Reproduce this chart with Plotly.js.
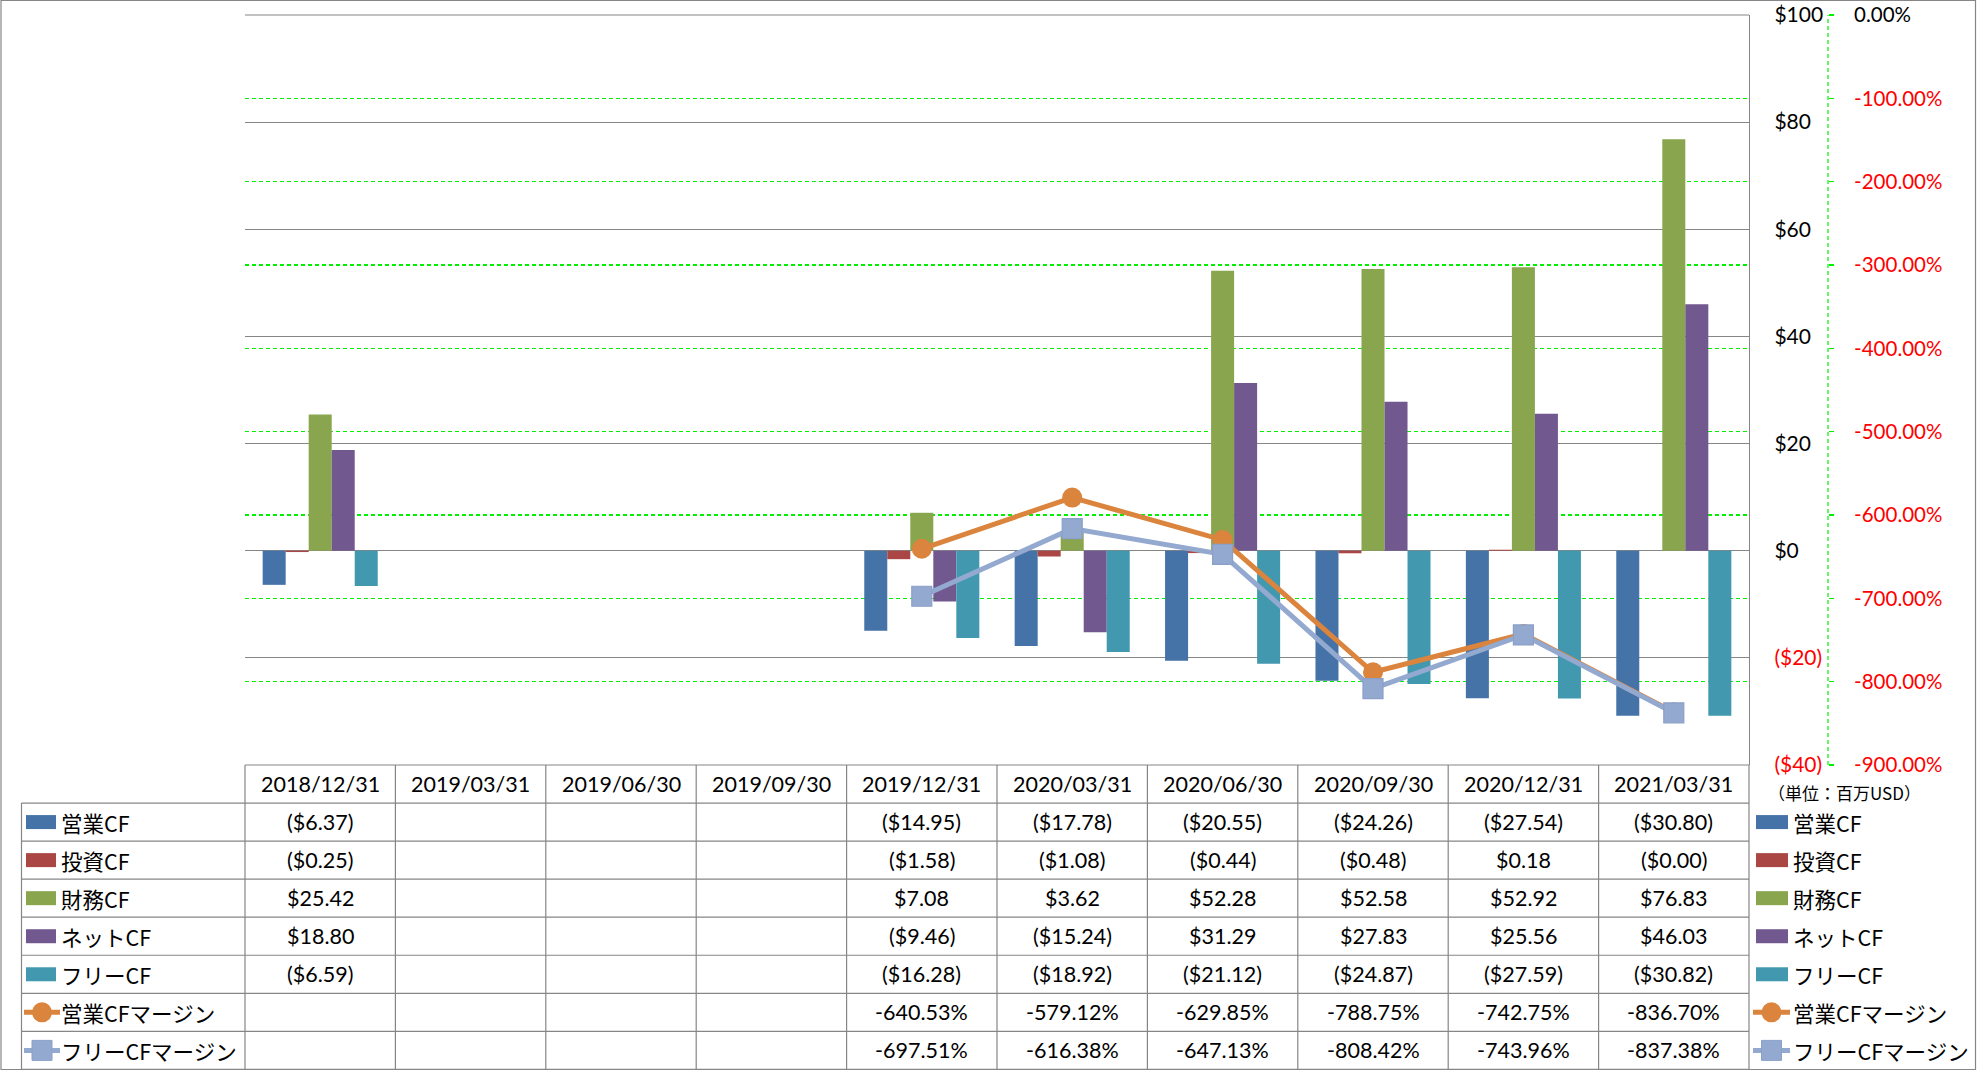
<!DOCTYPE html>
<html>
<head>
<meta charset="utf-8">
<script src="https://cdn.plot.ly/plotly-3.0.1.min.js"></script>
<style>
html, body { margin: 0; padding: 0; background: #ffffff; }
#chart { width: 1977px; height: 1071px; }
</style>
</head>
<body>
<div id="chart"></div>
<script>
// ---------------- DATA ----------------
const categories = ['2018/12/31', '2019/03/31', '2019/06/30', '2019/09/30', '2019/12/31',
                    '2020/03/31', '2020/06/30', '2020/09/30', '2020/12/31', '2021/03/31'];
const operatingCF = [-6.37, null, null, null, -14.95, -17.78, -20.55, -24.26, -27.54, -30.80];
const investingCF = [-0.25, null, null, null, -1.58, -1.08, -0.44, -0.48, 0.18, -0.001];
const financingCF = [25.42, null, null, null, 7.08, 3.62, 52.28, 52.58, 52.92, 76.83];
const netCF       = [18.80, null, null, null, -9.46, -15.24, 31.29, 27.83, 25.56, 46.03];
const freeCF      = [-6.59, null, null, null, -16.28, -18.92, -21.12, -24.87, -27.59, -30.82];
const opMarginPct   = [null, null, null, null, -640.53, -579.12, -629.85, -788.75, -742.75, -836.70];
const freeMarginPct = [null, null, null, null, -697.51, -616.38, -647.13, -808.42, -743.96, -837.38];

const seriesNames = ['営業CF', '投資CF', '財務CF', 'ネットCF', 'フリーCF', '営業CFマージン', 'フリーCFマージン'];
const usdTicks = [-40, -20, 0, 20, 40, 60, 80, 100];
const pctTicks = [0, -100, -200, -300, -400, -500, -600, -700, -800, -900];
const unitLabel = '（単位：百万USD）';

// ---------------- STYLE ----------------
const colors = ['#4572A7', '#AA4643', '#89A54E', '#71588F', '#4198AF', '#DB843D', '#93A9CF'];
const GRAY = '#868686';
const GREEN = '#00F000';
const RED = '#FF0000';
const LATIN = 'Lato, "Noto Sans CJK JP", sans-serif';
const CJK = '"Noto Sans CJK JP", Lato, sans-serif';

// pixel frame of the figure
const W = 1977, H = 1071;
const L = 245, PR = 1749, R2 = 1828, T = 15, B = 765;
const PW = R2 - L;          // paper width (up to the secondary axis)
const PH = B - T;
const px = v => (v - L) / PW;
const py = v => (B - v) / PH;
const ROW = 38.05;
const rowCenter = k => B + ROW * (k + 0.5);   // k = 0 header, 1..7 series rows

function fmtUSD(v) {
  if (v === null || v === undefined) return '';
  const s = '$' + Math.abs(v).toFixed(2);
  return v < 0 ? '(' + s + ')' : s;
}
function fmtPct(v) {
  if (v === null || v === undefined) return '';
  return v.toFixed(2) + '%';
}

const barSeries = [operatingCF, investingCF, financingCF, netCF, freeCF];
const lineSeries = [opMarginPct, freeMarginPct];

// ---------------- TRACES ----------------
const traces = [];
barSeries.forEach((vals, i) => {
  traces.push({
    type: 'bar', name: seriesNames[i], x: categories, y: vals,
    marker: { color: colors[i], line: { width: 0 } },
    xaxis: 'x', yaxis: 'y', hoverinfo: 'x+y+name'
  });
});
const symbols = ['circle', 'square'];
const msizes = [20, 20];
lineSeries.forEach((vals, j) => {
  traces.push({
    type: 'scatter', mode: 'lines+markers', name: seriesNames[5 + j],
    x: categories, y: vals, xaxis: 'x', yaxis: 'y2',
    line: { color: colors[5 + j], width: 5 },
    marker: { symbol: symbols[j], size: msizes[j], color: colors[5 + j],
              line: { width: j === 1 ? 1.2 : 0, color: '#8AA0C8' } },
    connectgaps: false, cliponaxis: false
  });
});

// ---------------- TABLE + LEGEND (shapes / annotations) ----------------
const shapes = [];
const annotations = [];
const gl = { color: GRAY, width: 1.2 };

// outer chart border
shapes.push({ type: 'rect', xref: 'paper', yref: 'paper',
  x0: px(1), x1: px(1975.5), y0: py(0.5), y1: py(1069.5), line: { color: GRAY, width: 1.2 } });

// top frame line of the plot ($100 gridline)
shapes.push({ type: 'line', xref: 'paper', yref: 'paper', x0: px(L), x1: px(PR), y0: 1, y1: 1, line: gl });

// secondary axis dashed line
shapes.push({ type: 'line', xref: 'paper', yref: 'paper', x0: 1, x1: 1, y0: 0, y1: 1,
  line: { color: GREEN, width: 1.2, dash: '4px,3px' } });

// table horizontal lines
const nRows = seriesNames.length;
shapes.push({ type: 'line', xref: 'paper', yref: 'paper', x0: px(L), x1: px(PR), y0: py(B), y1: py(B), line: gl });
for (let k = 1; k <= nRows + 1; k++) {
  const yy = B + ROW * k;
  shapes.push({ type: 'line', xref: 'paper', yref: 'paper', x0: px(21.5), x1: px(PR), y0: py(yy), y1: py(yy), line: gl });
}
// table vertical lines
const yTop = B, yBot = B + ROW * (nRows + 1);
shapes.push({ type: 'line', xref: 'paper', yref: 'paper', x0: px(21.5), x1: px(21.5), y0: py(B + ROW), y1: py(yBot), line: gl });
shapes.push({ type: 'line', xref: 'paper', yref: 'paper', x0: px(L), x1: px(L), y0: py(yTop), y1: py(yBot), line: gl });
shapes.push({ type: 'line', xref: 'paper', yref: 'paper', x0: px(PR), x1: px(PR), y0: py(yTop), y1: py(yBot), line: gl });
for (let i = 1; i < categories.length; i++) {
  shapes.push({ type: 'line', xref: 'x', yref: 'paper', x0: i - 0.5, x1: i - 0.5, y0: py(yTop), y1: py(yBot), line: gl });
}

// header texts
categories.forEach((c, i) => {
  annotations.push({ xref: 'x', yref: 'paper', x: i, y: py(rowCenter(0)), text: c, showarrow: false,
    xanchor: 'center', yanchor: 'middle', font: { family: LATIN, size: 21.5, color: '#000' } });
});
// cell texts
const allSeries = barSeries.concat(lineSeries);
allSeries.forEach((vals, r) => {
  vals.forEach((v, i) => {
    const t = r < 5 ? fmtUSD(v) : fmtPct(v);
    if (!t) return;
    annotations.push({ xref: 'x', yref: 'paper', x: i, y: py(rowCenter(r + 1)), text: t, showarrow: false,
      xanchor: 'center', yanchor: 'middle', font: { family: LATIN, size: 21.5, color: '#000' } });
  });
});

// legend keys (left in table, right beside the chart)
function legendKey(r, xLeft, xRight, lineL, lineR, textX) {
  const yc = rowCenter(r + 1);
  if (r < 5) {
    shapes.push({ type: 'rect', xref: 'paper', yref: 'paper', x0: px(xLeft), x1: px(xRight),
      y0: py(yc - 7), y1: py(yc + 7), fillcolor: colors[r], line: { width: 0 } });
  } else {
    const mc = (lineL + lineR) / 2;
    shapes.push({ type: 'line', xref: 'paper', yref: 'paper', x0: px(lineL), x1: px(lineR), y0: py(yc), y1: py(yc),
      line: { color: colors[r], width: 5 } });
    shapes.push({ type: r === 5 ? 'circle' : 'rect', xref: 'paper', yref: 'paper',
      x0: px(mc - 10), x1: px(mc + 10), y0: py(yc - 10), y1: py(yc + 10),
      fillcolor: colors[r], line: { width: r === 6 ? 1 : 0, color: '#8AA0C8' } });
  }
  annotations.push({ xref: 'paper', yref: 'paper', x: px(textX), y: py(yc), text: seriesNames[r], showarrow: false,
    xanchor: 'left', yanchor: 'middle', font: { family: CJK, size: 21.5, color: '#000' } });
}
for (let r = 0; r < nRows; r++) {
  legendKey(r, 26, 56, 24, 60, 59);
  legendKey(r, 1756, 1788, 1753, 1790, 1791);
}
annotations.push({ xref: 'paper', yref: 'paper', x: px(1766), y: py(792), text: unitLabel, showarrow: false,
  xanchor: 'left', yanchor: 'middle', font: { family: CJK, size: 17, color: '#000' } });

// ---------------- AXES ----------------
const usdText = usdTicks.map(v => v < 0
  ? '<span style="color:' + RED + '">($' + Math.abs(v) + ')</span>'
  : '$' + v);
const pctText = pctTicks.map(v => v < 0
  ? '<span style="color:' + RED + '">' + v.toFixed(2) + '%</span>'
  : '0.00%');

const layout = {
  width: W, height: H,
  margin: { l: L, r: W - R2, t: T, b: H - B, pad: 0 },
  paper_bgcolor: '#ffffff', plot_bgcolor: '#ffffff',
  showlegend: false,
  font: { family: LATIN, size: 21, color: '#000' },
  barmode: 'group', bargap: 0.235, bargroupgap: 0,
  xaxis: {
    type: 'category', domain: [0, (PR - L) / PW], range: [-0.5, categories.length - 0.5],
    showticklabels: false, showgrid: false, zeroline: false, showline: false, ticks: '', fixedrange: true
  },
  yaxis: {
    side: 'right', anchor: 'x', range: [-40, 100],
    tickvals: usdTicks, ticktext: usdText, ticks: '',
    showgrid: true, gridcolor: GRAY, gridwidth: 1.2,
    zeroline: true, zerolinecolor: GRAY, zerolinewidth: 1.2,
    showline: true, linecolor: GRAY, linewidth: 1.2,
    ticklabelstandoff: 20,
    tickfont: { family: LATIN, size: 21, color: '#000' }, fixedrange: true
  },
  yaxis2: {
    overlaying: 'y', side: 'right', anchor: 'free', position: 1, range: [-900, 0],
    tickvals: pctTicks, ticktext: pctText,
    ticks: 'outside', ticklen: 5, tickcolor: GREEN, tickwidth: 1.2,
    showgrid: true, gridcolor: GREEN, gridwidth: 1.2, griddash: '4px,3px',
    zeroline: false, showline: false,
    ticklabelstandoff: 16,
    tickfont: { family: LATIN, size: 20.5, color: '#000' }, fixedrange: true
  },
  shapes: shapes,
  annotations: annotations
};

Plotly.newPlot('chart', traces, layout, { displayModeBar: false, staticPlot: true });
</script>
</body>
</html>
